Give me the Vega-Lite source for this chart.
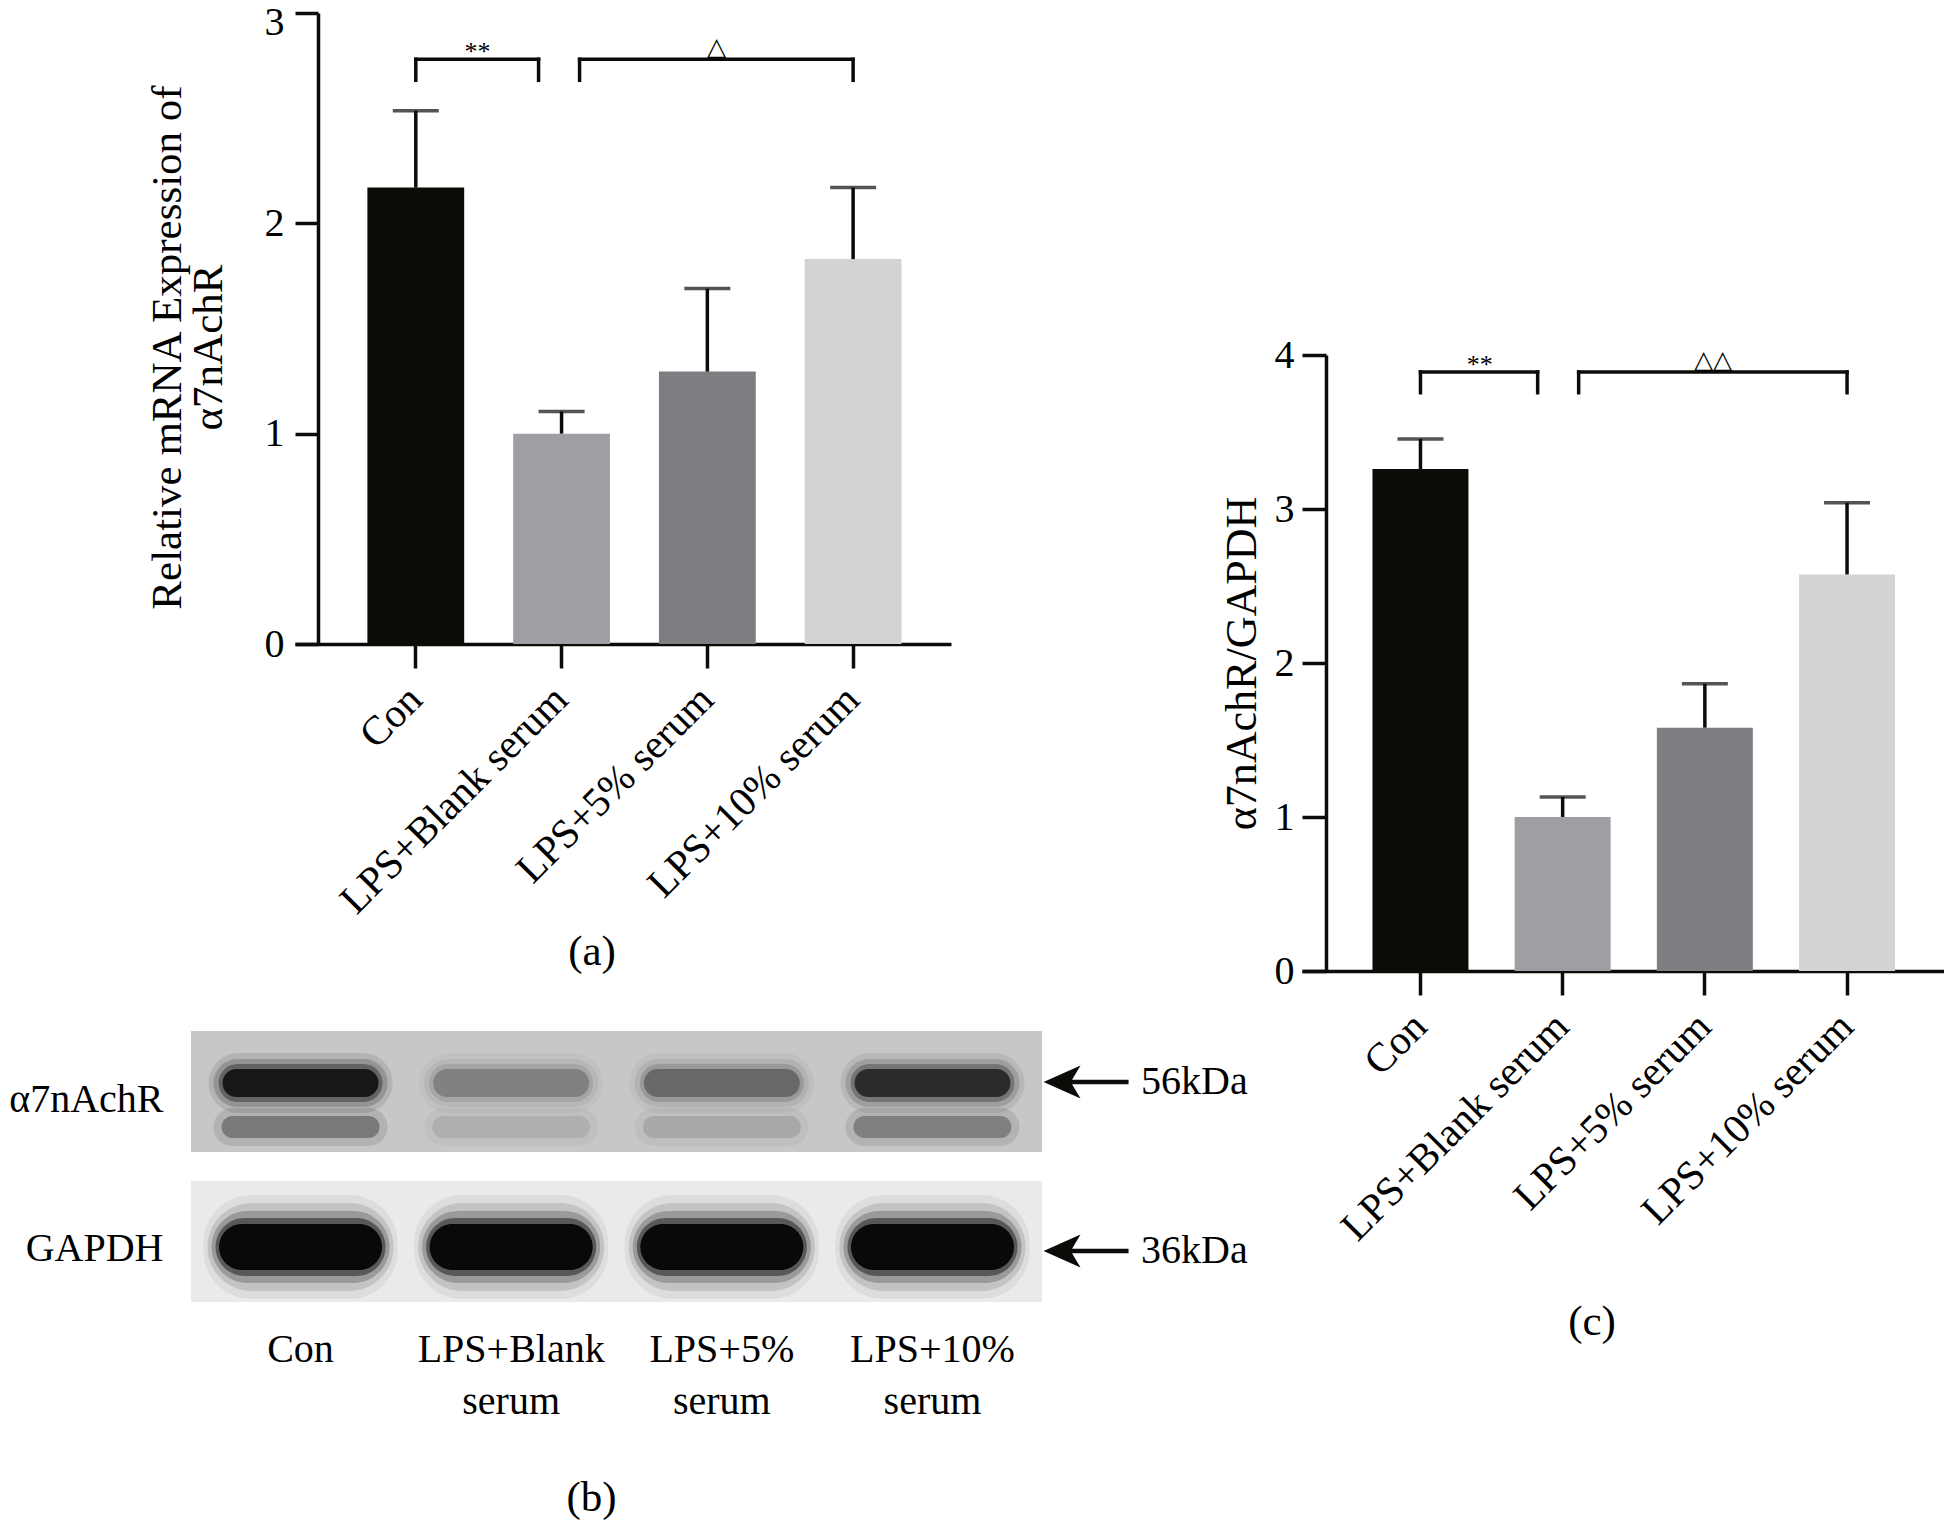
{
  "$schema": "https://vega.github.io/schema/vega-lite/v6.json",
  "background": "white",
  "padding": {"left": 8, "top": 2, "right": 0, "bottom": 0},
  "config": {
    "font": "Liberation Serif",
    "view": {"stroke": null},
    "axis": {
      "grid": false,
      "domainColor": "#0b0b08",
      "domainWidth": 3.5,
      "tickColor": "#0b0b08",
      "tickWidth": 3.5,
      "labelColor": "#000000",
      "titleColor": "#000000",
      "labelFont": "Liberation Serif",
      "titleFont": "Liberation Serif",
      "titleFontWeight": "normal",
      "labelFontSize": 40,
      "titleFontSize": 43,
      "labelLimit": 0
    },
    "title": {"font": "Liberation Serif", "fontWeight": "normal", "fontSize": 43, "color": "#000000", "anchor": "middle", "frame": "group"},
    "text": {"font": "Liberation Serif"}
  },
  "datasets": {
    "mrna": [
      {"group": "Con", "mean": 2.17, "upper": 2.535},
      {"group": "LPS+Blank serum", "mean": 1.0, "upper": 1.105},
      {"group": "LPS+5% serum", "mean": 1.295, "upper": 1.69},
      {"group": "LPS+10% serum", "mean": 1.83, "upper": 2.17}
    ],
    "ratio": [
      {"group": "Con", "mean": 3.26, "upper": 3.455},
      {"group": "LPS+Blank serum", "mean": 1.0, "upper": 1.13},
      {"group": "LPS+5% serum", "mean": 1.58, "upper": 1.865},
      {"group": "LPS+10% serum", "mean": 2.575, "upper": 3.04}
    ],
    "sigA": [
      {"from": "Con", "to": "LPS+Blank serum", "level": 2.78, "leg": 2.68, "label": "**"},
      {"from": "LPS+Blank serum", "to": "LPS+10% serum", "level": 2.78, "leg": 2.68, "label": "△"}
    ],
    "sigC": [
      {"from": "Con", "to": "LPS+Blank serum", "level": 3.89, "leg": 3.755, "label": "**"},
      {"from": "LPS+Blank serum", "to": "LPS+10% serum", "level": 3.89, "leg": 3.755, "label": "△△"}
    ],
    "blot": [
      {"lane": "Con", "protein": "α7nAchR", "band": "upper", "intensity": 1.0},
      {"lane": "LPS+Blank serum", "protein": "α7nAchR", "band": "upper", "intensity": 0.27},
      {"lane": "LPS+5% serum", "protein": "α7nAchR", "band": "upper", "intensity": 0.4},
      {"lane": "LPS+10% serum", "protein": "α7nAchR", "band": "upper", "intensity": 0.8},
      {"lane": "Con", "protein": "α7nAchR", "band": "lower", "intensity": 0.55},
      {"lane": "LPS+Blank serum", "protein": "α7nAchR", "band": "lower", "intensity": 0.16},
      {"lane": "LPS+5% serum", "protein": "α7nAchR", "band": "lower", "intensity": 0.2},
      {"lane": "LPS+10% serum", "protein": "α7nAchR", "band": "lower", "intensity": 0.5},
      {"lane": "Con", "protein": "GAPDH", "band": "main", "intensity": 1.0},
      {"lane": "LPS+Blank serum", "protein": "GAPDH", "band": "main", "intensity": 1.0},
      {"lane": "LPS+5% serum", "protein": "GAPDH", "band": "main", "intensity": 1.0},
      {"lane": "LPS+10% serum", "protein": "GAPDH", "band": "main", "intensity": 1.0}
    ],
    "markers": [
      {"protein": "α7nAchR", "size": "56kDa"},
      {"protein": "GAPDH", "size": "36kDa"}
    ],
    "spacer": [{"note": ""}]
  },
  "spacing": -28,
  "hconcat": [
    {
      "spacing": 57,
      "vconcat": [
        {
          "spacing": 0,
          "bounds": "flush",
          "hconcat": [
            {"width": 104, "height": 10, "data": {"name": "spacer"}, "mark": {"type": "text"}, "encoding": {"text": {"field": "note"}}},
            {
              "width": 656,
              "height": 631,
              "title": {"text": "(a)", "orient": "bottom", "offset": 10, "dx": -31},
              "data": {"name": "mrna"},
              "layer": [
                {
                  "mark": {"type": "bar"},
                  "encoding": {
                    "x": {"field": "group", "type": "nominal", "sort": null,
                      "scale": {"domain": ["Con", "LPS+Blank serum", "LPS+5% serum", "LPS+10% serum"], "paddingInner": 0.336, "paddingOuter": 0.418, "align": 0.594},
                      "axis": {"title": null, "labelAngle": -45, "labelAlign": "right", "labelBaseline": "middle", "labelPadding": 25, "tickSize": 24, "labelFontSize": 41}},
                    "y": {"field": "mean", "type": "quantitative", "scale": {"domain": [0, 3], "nice": false},
                      "axis": {"values": [0, 1, 2, 3], "format": "d", "offset": -23, "tickSize": 23, "labelPadding": 11,
                        "labelOffset": {"condition": {"test": "datum.value === 3", "value": 9}, "value": 0},
                        "title": ["Relative mRNA Expression of", "α7nAchR"], "titlePadding": 34, "titleLineHeight": 41, "titleY": 334}},
                    "color": {"field": "group", "type": "nominal", "scale": {"domain": ["Con", "LPS+Blank serum", "LPS+5% serum", "LPS+10% serum"], "range": ["#0b0c08", "#a09ea5", "#7f7d81", "#d3d3d3"]}, "legend": null}
                  }
                },
                {
                  "mark": {"type": "rule", "strokeWidth": 3.5, "color": "#0b0b08"},
                  "encoding": {
                    "x": {"field": "group", "type": "nominal"},
                    "y": {"field": "mean", "type": "quantitative"},
                    "y2": {"field": "upper"}
                  }
                },
                {
                  "mark": {"type": "tick", "thickness": 3.5, "size": 46, "color": "#0b0b08", "orient": "horizontal"},
                  "encoding": {
                    "x": {"field": "group", "type": "nominal"},
                    "y": {"field": "upper", "type": "quantitative"}
                  }
                },
                {
                  "data": {"name": "sigA"}, "transform": [{"filter": "datum.label == '**'"}],
                  "mark": {"type": "rule", "strokeWidth": 3.5, "color": "#0b0b08", "strokeCap": "square", "x2Offset": -23},
                  "encoding": {"x": {"field": "from", "type": "nominal"}, "x2": {"field": "to"}, "y": {"field": "level", "type": "quantitative"}}
                },
                {
                  "data": {"name": "sigA"}, "transform": [{"filter": "datum.label == '**'"}],
                  "mark": {"type": "rule", "strokeWidth": 3.5, "color": "#0b0b08", "strokeCap": "square"},
                  "encoding": {"x": {"field": "from", "type": "nominal"}, "y": {"field": "level", "type": "quantitative"}, "y2": {"field": "leg"}}
                },
                {
                  "data": {"name": "sigA"}, "transform": [{"filter": "datum.label == '**'"}],
                  "mark": {"type": "rule", "strokeWidth": 3.5, "color": "#0b0b08", "strokeCap": "square", "xOffset": -23},
                  "encoding": {"x": {"field": "to", "type": "nominal"}, "y": {"field": "level", "type": "quantitative"}, "y2": {"field": "leg"}}
                },
                {
                  "data": {"name": "sigA"}, "transform": [{"filter": "datum.label == '**'"}],
                  "mark": {"type": "text", "fontSize": 26, "baseline": "alphabetic", "align": "center", "xOffset": -84, "dy": 1, "color": "#000000"},
                  "encoding": {"x": {"field": "to", "type": "nominal"}, "y": {"field": "level", "type": "quantitative"}, "text": {"field": "label"}}
                },
                {
                  "data": {"name": "sigA"}, "transform": [{"filter": "datum.label != '**'"}],
                  "mark": {"type": "rule", "strokeWidth": 3.5, "color": "#0b0b08", "strokeCap": "square", "xOffset": 18},
                  "encoding": {"x": {"field": "from", "type": "nominal"}, "x2": {"field": "to"}, "y": {"field": "level", "type": "quantitative"}}
                },
                {
                  "data": {"name": "sigA"}, "transform": [{"filter": "datum.label != '**'"}],
                  "mark": {"type": "rule", "strokeWidth": 3.5, "color": "#0b0b08", "strokeCap": "square", "xOffset": 18},
                  "encoding": {"x": {"field": "from", "type": "nominal"}, "y": {"field": "level", "type": "quantitative"}, "y2": {"field": "leg"}}
                },
                {
                  "data": {"name": "sigA"}, "transform": [{"filter": "datum.label != '**'"}],
                  "mark": {"type": "rule", "strokeWidth": 3.5, "color": "#0b0b08", "strokeCap": "square"},
                  "encoding": {"x": {"field": "to", "type": "nominal"}, "y": {"field": "level", "type": "quantitative"}, "y2": {"field": "leg"}}
                },
                {
                  "data": {"name": "sigA"}, "transform": [{"filter": "datum.label != '**'"}],
                  "mark": {"type": "text", "fontSize": 25, "baseline": "alphabetic", "align": "center", "xOffset": -137, "dy": -4, "color": "#000000"},
                  "encoding": {"x": {"field": "to", "type": "nominal"}, "y": {"field": "level", "type": "quantitative"}, "text": {"field": "label"}}
                }
              ]
            }
          ]
        },
        {
          "width": 851,
          "height": 271,
          "title": {"text": "(b)", "orient": "bottom", "offset": 56, "dx": -25},
          "resolve": {"scale": {"opacity": "independent", "color": "independent"}},
          "layer": [
            {
              "data": {"name": "markers"},
              "mark": {"type": "rect"},
              "encoding": {
                "y": {"field": "protein", "type": "nominal", "scale": {"domain": ["α7nAchR", "GAPDH"], "paddingInner": 0.193, "paddingOuter": 0},
                  "axis": {"title": null, "domain": false, "ticks": false, "labelPadding": 28, "labelFontSize": 40, "labelOffset": 8}},
                "color": {"field": "protein", "type": "nominal", "scale": {"domain": ["α7nAchR", "GAPDH"], "range": ["#c7c7c9", "#eaeaea"]}, "legend": null}
              }
            },
            {
              "data": {"name": "blot"}, "transform": [{"filter": "datum.band == 'upper'"}],
              "mark": {"type": "rect", "width": 184, "height": 60, "cornerRadius": 30, "yOffset": -8.5, "color": "#0a0908"},
              "encoding": {
                "x": {"field": "lane", "type": "nominal", "scale": {"domain": ["Con", "LPS+Blank serum", "LPS+5% serum", "LPS+10% serum"], "paddingInner": 0.2, "paddingOuter": 0.12},
                  "axis": {"title": null, "orient": "bottom", "domain": false, "ticks": false, "labelAngle": 0, "labelAlign": "center", "labelBaseline": "top", "labelPadding": 27, "labelFontSize": 40, "labelLineHeight": 52,
                    "labelExpr": "datum.value == 'Con' ? 'Con' : split(datum.value, ' ')"}},
                "y": {"field": "protein", "type": "nominal"},
                "opacity": {"field": "intensity", "type": "quantitative", "scale": {"domain": [0, 1], "range": [0, 0.1]}, "legend": null}
              }
            },
            {
              "data": {"name": "blot"}, "transform": [{"filter": "datum.band == 'upper'"}],
              "mark": {"type": "rect", "width": 174, "height": 48, "cornerRadius": 24, "yOffset": -8.5, "color": "#0a0908"},
              "encoding": {
                "x": {"field": "lane", "type": "nominal"},
                "y": {"field": "protein", "type": "nominal"},
                "opacity": {"field": "intensity", "type": "quantitative", "scale": {"domain": [0, 1], "range": [0, 0.18]}, "legend": null}
              }
            },
            {
              "data": {"name": "blot"}, "transform": [{"filter": "datum.band == 'upper'"}],
              "mark": {"type": "rect", "width": 164, "height": 38, "cornerRadius": 19, "yOffset": -8.5, "color": "#0a0908"},
              "encoding": {
                "x": {"field": "lane", "type": "nominal"},
                "y": {"field": "protein", "type": "nominal"},
                "opacity": {"field": "intensity", "type": "quantitative", "scale": {"domain": [0, 1], "range": [0, 0.35]}, "legend": null}
              }
            },
            {
              "data": {"name": "blot"}, "transform": [{"filter": "datum.band == 'upper'"}],
              "mark": {"type": "rect", "width": 156, "height": 28, "cornerRadius": 14, "yOffset": -8.5, "color": "#0a0908"},
              "encoding": {
                "x": {"field": "lane", "type": "nominal"},
                "y": {"field": "protein", "type": "nominal"},
                "opacity": {"field": "intensity", "type": "quantitative", "scale": {"domain": [0, 1], "range": [0, 0.85]}, "legend": null}
              }
            },
            {
              "data": {"name": "blot"}, "transform": [{"filter": "datum.band == 'lower'"}],
              "mark": {"type": "rect", "width": 174, "height": 38, "cornerRadius": 19, "yOffset": 35.5, "color": "#0a0908"},
              "encoding": {
                "x": {"field": "lane", "type": "nominal"},
                "y": {"field": "protein", "type": "nominal"},
                "opacity": {"field": "intensity", "type": "quantitative", "scale": {"domain": [0, 1], "range": [0, 0.2]}, "legend": null}
              }
            },
            {
              "data": {"name": "blot"}, "transform": [{"filter": "datum.band == 'lower'"}],
              "mark": {"type": "rect", "width": 158, "height": 22, "cornerRadius": 11, "yOffset": 35.5, "color": "#0a0908"},
              "encoding": {
                "x": {"field": "lane", "type": "nominal"},
                "y": {"field": "protein", "type": "nominal"},
                "opacity": {"field": "intensity", "type": "quantitative", "scale": {"domain": [0, 1], "range": [0, 0.6]}, "legend": null}
              }
            },
            {
              "data": {"name": "blot"}, "transform": [{"filter": "datum.band == 'main'"}],
              "mark": {"type": "rect", "width": 194, "height": 104, "cornerRadius": 48, "yOffset": 5.5, "color": "#0a0908"},
              "encoding": {
                "x": {"field": "lane", "type": "nominal"},
                "y": {"field": "protein", "type": "nominal"},
                "opacity": {"field": "intensity", "type": "quantitative", "scale": {"domain": [0, 1], "range": [0, 0.06]}, "legend": null}
              }
            },
            {
              "data": {"name": "blot"}, "transform": [{"filter": "datum.band == 'main'"}],
              "mark": {"type": "rect", "width": 186, "height": 88, "cornerRadius": 44, "yOffset": 5.5, "color": "#0a0908"},
              "encoding": {
                "x": {"field": "lane", "type": "nominal"},
                "y": {"field": "protein", "type": "nominal"},
                "opacity": {"field": "intensity", "type": "quantitative", "scale": {"domain": [0, 1], "range": [0, 0.12]}, "legend": null}
              }
            },
            {
              "data": {"name": "blot"}, "transform": [{"filter": "datum.band == 'main'"}],
              "mark": {"type": "rect", "width": 178, "height": 72, "cornerRadius": 36, "yOffset": 5.5, "color": "#0a0908"},
              "encoding": {
                "x": {"field": "lane", "type": "nominal"},
                "y": {"field": "protein", "type": "nominal"},
                "opacity": {"field": "intensity", "type": "quantitative", "scale": {"domain": [0, 1], "range": [0, 0.22]}, "legend": null}
              }
            },
            {
              "data": {"name": "blot"}, "transform": [{"filter": "datum.band == 'main'"}],
              "mark": {"type": "rect", "width": 170, "height": 58, "cornerRadius": 29, "yOffset": 5.5, "color": "#0a0908"},
              "encoding": {
                "x": {"field": "lane", "type": "nominal"},
                "y": {"field": "protein", "type": "nominal"},
                "opacity": {"field": "intensity", "type": "quantitative", "scale": {"domain": [0, 1], "range": [0, 0.45]}, "legend": null}
              }
            },
            {
              "data": {"name": "blot"}, "transform": [{"filter": "datum.band == 'main'"}],
              "mark": {"type": "rect", "width": 163, "height": 46, "cornerRadius": 23, "yOffset": 5.5, "color": "#0a0908"},
              "encoding": {
                "x": {"field": "lane", "type": "nominal"},
                "y": {"field": "protein", "type": "nominal"},
                "opacity": {"field": "intensity", "type": "quantitative", "scale": {"domain": [0, 1], "range": [0, 1]}, "legend": null}
              }
            },
            {
              "data": {"name": "markers"}, "transform": [{"filter": "datum.protein == 'α7nAchR'"}],
              "mark": {"type": "point", "shape": "M-1,0 L-0.13,-0.39 L-0.33,-0.055 L1,-0.055 L1,0.055 L-0.33,0.055 L-0.13,0.39 Z", "size": 7225, "filled": true, "color": "#0b0b08", "opacity": 1, "strokeWidth": 0, "xOffset": 153.6, "yOffset": -9.5},
              "encoding": {"x": {"datum": "LPS+10% serum", "type": "nominal"}, "y": {"field": "protein", "type": "nominal"}}
            },
            {
              "data": {"name": "markers"}, "transform": [{"filter": "datum.protein == 'GAPDH'"}],
              "mark": {"type": "point", "shape": "M-1,0 L-0.13,-0.39 L-0.33,-0.055 L1,-0.055 L1,0.055 L-0.33,0.055 L-0.13,0.39 Z", "size": 7225, "filled": true, "color": "#0b0b08", "opacity": 1, "strokeWidth": 0, "xOffset": 153.6, "yOffset": 9.5},
              "encoding": {"x": {"datum": "LPS+10% serum", "type": "nominal"}, "y": {"field": "protein", "type": "nominal"}}
            },
            {
              "data": {"name": "markers"}, "transform": [{"filter": "datum.protein == 'α7nAchR'"}],
              "mark": {"type": "text", "align": "left", "baseline": "middle", "fontSize": 40, "xOffset": 208.6, "yOffset": -9.5, "color": "#000000"},
              "encoding": {"x": {"datum": "LPS+10% serum", "type": "nominal"}, "y": {"field": "protein", "type": "nominal"}, "text": {"field": "size"}}
            },
            {
              "data": {"name": "markers"}, "transform": [{"filter": "datum.protein == 'GAPDH'"}],
              "mark": {"type": "text", "align": "left", "baseline": "middle", "fontSize": 40, "xOffset": 208.6, "yOffset": 9.5, "color": "#000000"},
              "encoding": {"x": {"datum": "LPS+10% serum", "type": "nominal"}, "y": {"field": "protein", "type": "nominal"}, "text": {"field": "size"}}
            }
          ]
        }
      ]
    },
    {
      "spacing": 0,
      "bounds": "flush",
      "vconcat": [
        {"width": 10, "height": 342, "data": {"name": "spacer"}, "mark": {"type": "text"}, "encoding": {"text": {"field": "note"}}},
        {
          "width": 642,
          "height": 616,
          "title": {"text": "(c)", "orient": "bottom", "offset": 53, "dx": -31},
          "data": {"name": "ratio"},
          "layer": [
            {
              "mark": {"type": "bar"},
              "encoding": {
                "x": {"field": "group", "type": "nominal", "sort": null,
                  "scale": {"domain": ["Con", "LPS+Blank serum", "LPS+5% serum", "LPS+10% serum"], "paddingInner": 0.325, "paddingOuter": 0.42, "align": 0.59},
                  "axis": {"title": null, "labelAngle": -45, "labelAlign": "right", "labelBaseline": "middle", "labelPadding": 25, "tickSize": 24, "labelFontSize": 41}},
                "y": {"field": "mean", "type": "quantitative", "scale": {"domain": [0, 4], "nice": false},
                  "axis": {"values": [0, 1, 2, 3, 4], "format": "d", "offset": -24, "tickSize": 24, "labelPadding": 8, "title": "α7nAchR/GAPDH", "titlePadding": 10, "titleFontSize": 44}},
                "color": {"field": "group", "type": "nominal", "scale": {"domain": ["Con", "LPS+Blank serum", "LPS+5% serum", "LPS+10% serum"], "range": ["#0b0c08", "#a09ea5", "#7f7d81", "#d3d3d3"]}, "legend": null}
              }
            },
            {
              "mark": {"type": "rule", "strokeWidth": 3.5, "color": "#0b0b08"},
              "encoding": {
                "x": {"field": "group", "type": "nominal"},
                "y": {"field": "mean", "type": "quantitative"},
                "y2": {"field": "upper"}
              }
            },
            {
              "mark": {"type": "tick", "thickness": 3.5, "size": 46, "color": "#0b0b08", "orient": "horizontal"},
              "encoding": {
                "x": {"field": "group", "type": "nominal"},
                "y": {"field": "upper", "type": "quantitative"}
              }
            },
            {
              "data": {"name": "sigC"}, "transform": [{"filter": "datum.label == '**'"}],
              "mark": {"type": "rule", "strokeWidth": 3.5, "color": "#0b0b08", "strokeCap": "square", "x2Offset": -25},
              "encoding": {"x": {"field": "from", "type": "nominal"}, "x2": {"field": "to"}, "y": {"field": "level", "type": "quantitative"}}
            },
            {
              "data": {"name": "sigC"}, "transform": [{"filter": "datum.label == '**'"}],
              "mark": {"type": "rule", "strokeWidth": 3.5, "color": "#0b0b08", "strokeCap": "square"},
              "encoding": {"x": {"field": "from", "type": "nominal"}, "y": {"field": "level", "type": "quantitative"}, "y2": {"field": "leg"}}
            },
            {
              "data": {"name": "sigC"}, "transform": [{"filter": "datum.label == '**'"}],
              "mark": {"type": "rule", "strokeWidth": 3.5, "color": "#0b0b08", "strokeCap": "square", "xOffset": -25},
              "encoding": {"x": {"field": "to", "type": "nominal"}, "y": {"field": "level", "type": "quantitative"}, "y2": {"field": "leg"}}
            },
            {
              "data": {"name": "sigC"}, "transform": [{"filter": "datum.label == '**'"}],
              "mark": {"type": "text", "fontSize": 26, "baseline": "alphabetic", "align": "center", "xOffset": -83, "dy": 1, "color": "#000000"},
              "encoding": {"x": {"field": "to", "type": "nominal"}, "y": {"field": "level", "type": "quantitative"}, "text": {"field": "label"}}
            },
            {
              "data": {"name": "sigC"}, "transform": [{"filter": "datum.label != '**'"}],
              "mark": {"type": "rule", "strokeWidth": 3.5, "color": "#0b0b08", "strokeCap": "square", "xOffset": 16},
              "encoding": {"x": {"field": "from", "type": "nominal"}, "x2": {"field": "to"}, "y": {"field": "level", "type": "quantitative"}}
            },
            {
              "data": {"name": "sigC"}, "transform": [{"filter": "datum.label != '**'"}],
              "mark": {"type": "rule", "strokeWidth": 3.5, "color": "#0b0b08", "strokeCap": "square", "xOffset": 16},
              "encoding": {"x": {"field": "from", "type": "nominal"}, "y": {"field": "level", "type": "quantitative"}, "y2": {"field": "leg"}}
            },
            {
              "data": {"name": "sigC"}, "transform": [{"filter": "datum.label != '**'"}],
              "mark": {"type": "rule", "strokeWidth": 3.5, "color": "#0b0b08", "strokeCap": "square"},
              "encoding": {"x": {"field": "to", "type": "nominal"}, "y": {"field": "level", "type": "quantitative"}, "y2": {"field": "leg"}}
            },
            {
              "data": {"name": "sigC"}, "transform": [{"filter": "datum.label != '**'"}],
              "mark": {"type": "text", "fontSize": 25, "baseline": "alphabetic", "align": "center", "xOffset": -134.5, "dy": -4, "color": "#000000"},
              "encoding": {"x": {"field": "to", "type": "nominal"}, "y": {"field": "level", "type": "quantitative"}, "text": {"field": "label"}}
            }
          ]
        }
      ]
    }
  ]
}
